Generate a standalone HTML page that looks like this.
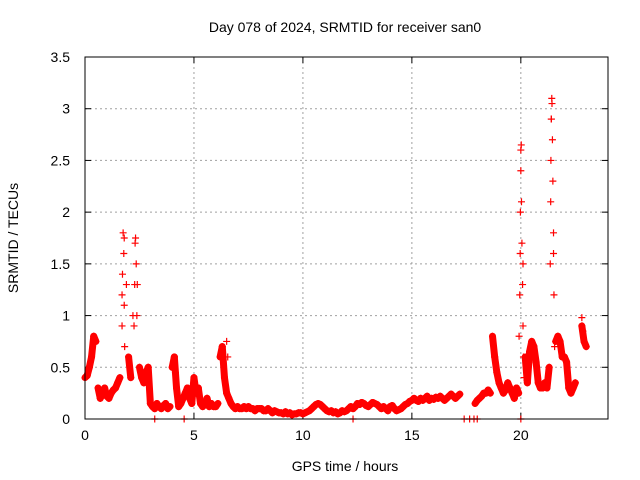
<!DOCTYPE html>
<html><head><meta charset="utf-8"><style>
body{margin:0;background:#fff}
svg{display:block;font-family:"Liberation Sans",sans-serif}
</style></head><body>
<svg id="chart" width="640" height="480">
<text x="345" y="32" font-size="14" text-anchor="middle">Day 078 of 2024, SRMTID for receiver san0</text>
<text x="345" y="471" font-size="14" text-anchor="middle">GPS time / hours</text>
<text x="18" y="238" font-size="14" text-anchor="middle" transform="rotate(-90 18 238)">SRMTID / TECUs</text>
<g id="grid"></g><g id="ticks"></g><g id="marks"></g>
<rect x="85" y="57" width="523" height="362" fill="none" stroke="#000" stroke-width="1"/>
</svg>
<script>
const xTicks=[0,5,10,15,20];
const yTicks=[0,0.5,1,1.5,2,2.5,3,3.5];
const yTickLabels=["0","0.5","1","1.5","2","2.5","3","3.5"];
const step=0.1;
const srmtid=[
0.4,0.42,0.5,0.6,0.8,0.75,0.3,0.2,0.25,0.3,
0.22,0.2,0.25,0.28,0.3,0.35,0.4,1.2,1.75,1.3,
0.6,0.4,1.0,1.7,1.3,0.5,0.4,0.35,0.45,0.5,
0.15,0.12,0.1,0.15,0.12,0.1,0.13,0.15,0.1,0.12,
0.5,0.6,0.3,0.12,0.15,0.2,0.25,0.3,0.2,0.15,
0.4,0.25,0.3,0.15,0.12,0.15,0.2,0.12,0.15,0.12,
0.12,0.15,0.6,0.7,0.4,0.25,0.2,0.15,0.12,0.1,
0.12,0.1,0.1,0.12,0.1,0.12,0.1,0.1,0.08,0.1,
0.1,0.1,0.08,0.08,0.1,0.08,0.06,0.08,0.07,0.06,
0.06,0.05,0.07,0.05,0.06,0.04,0.05,0.05,0.06,0.06,
0.05,0.06,0.07,0.08,0.1,0.12,0.14,0.15,0.14,0.12,
0.1,0.08,0.07,0.08,0.06,0.07,0.05,0.06,0.08,0.07,
0.08,0.1,0.12,0.1,0.12,0.15,0.14,0.16,0.15,0.13,
0.12,0.14,0.16,0.15,0.14,0.12,0.1,0.12,0.1,0.08,
0.12,0.13,0.1,0.08,0.09,0.1,0.12,0.14,0.15,0.17,
0.18,0.2,0.18,0.17,0.2,0.18,0.2,0.22,0.18,0.2,
0.19,0.21,0.2,0.22,0.2,0.18,0.2,0.22,0.24,0.22,
0.2,0.22,0.24,null,null,null,null,null,null,0.15,
0.18,0.2,0.22,0.25,0.25,0.28,0.25,0.8,0.6,0.45,
0.35,0.3,0.25,0.28,0.35,0.3,0.25,0.2,0.3,0.25,
2.6,1.5,0.6,0.35,0.65,0.75,0.7,0.55,0.35,0.3,
0.3,0.35,0.3,0.5,2.9,1.6,0.75,0.8,0.75,0.6,
0.6,0.55,0.3,0.25,0.3,0.35,null,null,0.9,0.75,
0.7];
const spikeT=[1.7,1.72,1.75,1.78,1.8,1.82,2.25,2.28,2.32,2.35,2.38,4.1,4.15,6.5,6.55,
19.92,19.95,19.97,19.98,20.0,20.02,20.03,20.05,20.08,20.1,20.12,20.15,
21.35,21.37,21.38,21.4,21.42,21.43,21.45,21.47,21.5,21.52,21.55,22.8,22.85];
const spikeV=[0.9,1.4,1.8,1.6,1.1,0.7,0.9,1.3,1.75,1.5,1.0,0.55,0.45,0.75,0.6,
0.8,1.2,1.6,2.0,2.4,2.65,2.1,1.7,1.3,0.9,0.6,0.4,
1.5,2.1,2.5,2.9,3.1,3.05,2.7,2.3,1.8,1.2,0.7,0.98,0.85];
const zeroT=[3.2,4.55,12.3,17.4,17.65,17.85,18.0,20.0];
const X=t=>85+t*(523/24), Y=v=>419-v*(362/3.5);
const NS="http://www.w3.org/2000/svg";
const grid=document.getElementById('grid'),ticks=document.getElementById('ticks'),marks=document.getElementById('marks');
function mk(tag,attrs,parent){const e=document.createElementNS(NS,tag);for(const k in attrs)e.setAttribute(k,attrs[k]);parent.appendChild(e);return e;}
xTicks.forEach(t=>{const x=X(t);
 if(t>0){const g=mk('line',{x1:x,x2:x,y1:57,y2:419,stroke:'#a0a0a0','stroke-dasharray':'2,3'},grid);
 
 }
 mk('line',{x1:x,x2:x,y1:419,y2:413,stroke:'#000'},ticks);mk('line',{x1:x,x2:x,y1:57,y2:63,stroke:'#000'},ticks);
 const l=mk('text',{x:x,y:440,'font-size':14,'text-anchor':'middle'},ticks);l.textContent=t;
 
 });
yTicks.forEach((v,i)=>{const y=Y(v);
 if(v>0&&v<3.5){const g=mk('line',{x1:85,x2:608,y1:y,y2:y,stroke:'#a0a0a0','stroke-dasharray':'2,3'},grid);
 
 }
 mk('line',{x1:85,x2:91,y1:y,y2:y,stroke:'#000'},ticks);mk('line',{x1:602,x2:608,y1:y,y2:y,stroke:'#000'},ticks);
 const l=mk('text',{x:70,y:y+5,'font-size':14,'text-anchor':'end'},ticks);l.textContent=yTickLabels[i];
 
 });
// dense band only where consecutive samples are close (quiet periods)
srmtid.forEach((v,i)=>{const w=srmtid[i+1];
 if(v===null||w===undefined||w===null||Math.abs(w-v)>0.36)return;
 const ln=mk('line',{x1:X(i*step),y1:Y(v),x2:X((i+1)*step),y2:Y(w),stroke:'#f00','stroke-width':7,'stroke-linecap':'round'},marks);
 
 });
function plus(t,v){const x=X(t),y=Y(v);
 const p=mk('path',{d:`M${x-3.5},${y}h7M${x},${y-3.5}v7`,stroke:'#f00','stroke-width':1.2,fill:'none'},marks);
 
 }
srmtid.forEach((v,i)=>{if(v!==null)plus(i*step,v);});
spikeT.forEach((t,i)=>plus(t,spikeV[i]));
zeroT.forEach(t=>plus(t,0));
</script>
</body></html>
